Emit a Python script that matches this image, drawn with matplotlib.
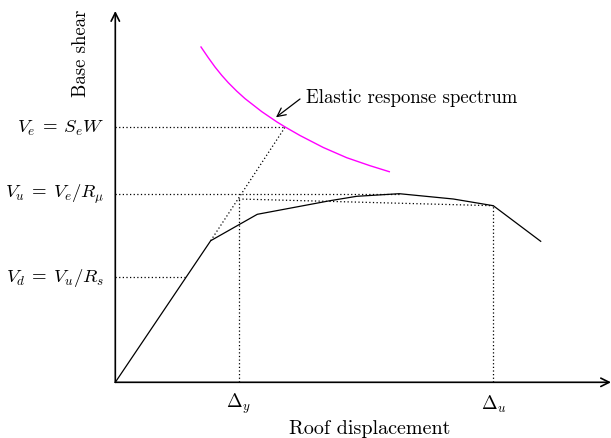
import numpy as np
import matplotlib
matplotlib.use('Agg')
import matplotlib.pyplot as plt
from matplotlib.patches import FancyArrowPatch

plt.rcParams['mathtext.fontset'] = 'cm'
plt.rcParams['font.family'] = 'cmr10'
plt.rcParams['axes.unicode_minus'] = False

# Pushover (capacity) curve: roof displacement vs base shear
disp = [0, 95.4, 142.0, 214.7, 241.4, 284.0, 338.0, 378.0, 425.4]
shear = [0, 141.6, 168.0, 181.6, 186.0, 188.6, 183.3, 176.6, 141.0]

# Elastic response spectrum
spec_x = [85.7, 93.0, 99.7, 106.4, 113.0, 121.4, 129.7, 146.4, 161.4, 169.7,
          184.7, 208.0, 231.4, 254.7, 274.0]
spec_y = [335.3, 324.6, 315.3, 307.0, 299.6, 291.2, 283.7, 270.7, 260.5, 255.4,
          246.8, 234.8, 224.6, 216.6, 210.6]

# Force levels and displacements
v_e = 255.0
v_u = 188.6
v_d = 105.3
v_yield = 183.3
delta_y = 123.5
delta_u = 378.0
x_elastic = 169.7

level_labels = [r'$V_e \:=\: S_e W$', r'$V_u \:=\: V_e/R_\mu$', r'$V_d \:=\: V_u/R_s$']
disp_labels = [r'$\Delta_y$', r'$\Delta_u$']

fig = plt.figure(figsize=(6.11, 4.39), dpi=100)
ax = fig.add_axes([0, 0, 1, 1])
ax.set_xlim(-115.3, 495.7)
ax.set_ylim(-55.7, 383.3)
ax.axis('off')

dot = dict(color='black', lw=0.9, ls=(0, (1, 1.9)))

# dotted construction lines
x_d = np.interp(v_d, shear[:2], disp[:2])
ax.plot([0, x_elastic], [v_e, v_e], **dot)
ax.plot([0, disp[5]], [v_u, v_u], **dot)
ax.plot([0, x_d], [v_d, v_d], **dot)
ax.plot([disp[1], x_elastic], [shear[1], v_e], **dot)
ax.plot([delta_y, delta_y], [0, v_yield], **dot)
ax.plot([delta_y, delta_u], [v_yield, shear[7]], **dot)
ax.plot([delta_u, delta_u], [0, shear[7]], **dot)

# curves
ax.plot(disp, shear, color='black', lw=0.9)
ax.plot(spec_x, spec_y, color='#ff00ff', lw=1.0)

# axes with arrows
for end in [(495.7, 0), (0, 371.3)]:
    ax.add_patch(FancyArrowPatch((0, 0), end, arrowstyle='->,head_length=0.6,head_width=0.3',
                                 mutation_scale=10, lw=1.2, color='black', clip_on=False,
                                 shrinkA=0, shrinkB=0))

fs = 13.5
for lab, lev in zip(level_labels, [v_e, v_u, v_d]):
    ax.text(-11, lev, lab, ha='right', va='center', fontsize=fs)
for lab, d in zip(disp_labels, [delta_y, delta_u]):
    ax.text(d, -21, lab, ha='center', va='center', fontsize=fs)

ax.text(254, -45.5, 'Roof displacement', ha='center', va='center', fontsize=14.5)
ax.text(-34, 330, 'Base shear', ha='center', va='center', rotation=90, fontsize=fs)

# pointer to the spectrum
ax.add_patch(FancyArrowPatch((184.7, 283.3), (160.7, 265),
                             arrowstyle='->,head_length=0.6,head_width=0.3',
                             mutation_scale=10, lw=0.9, color='black', shrinkA=0, shrinkB=0))
ax.text(190.5, 285, 'Elastic response spectrum', ha='left', va='center', fontsize=fs)

fig.savefig('out.png', dpi=100)
